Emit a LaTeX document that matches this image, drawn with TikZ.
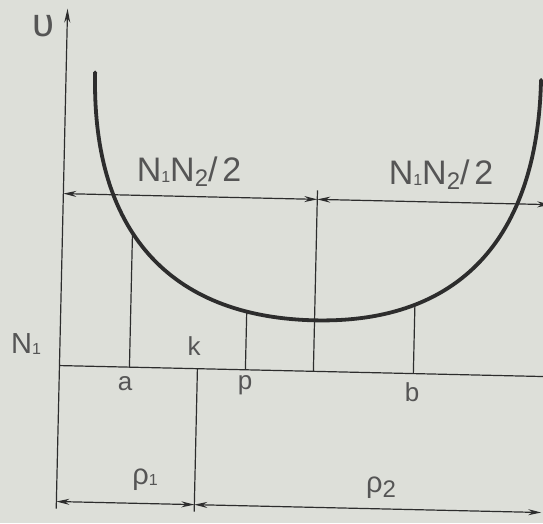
\documentclass[tikz,border=0pt]{standalone}
\usepackage{fontspec}
\setmainfont{Liberation Sans}
\usetikzlibrary{arrows.meta,intersections}
\definecolor{paper}{RGB}{221,223,217}
\definecolor{ink}{RGB}{45,45,45}
\definecolor{txt}{RGB}{85,85,85}
\newcommand{\tinysub}[1]{\raisebox{-1pt}{\fontsize{16}{16}\selectfont #1}}
\newcommand{\lowsub}[1]{\raisebox{-5pt}{\fontsize{24}{24}\selectfont #1}}
\begin{document}
\begin{tikzpicture}[x=1pt,y=-1pt,
  thin line/.style={ink, line width=1.2pt},
  curveline/.style={ink, line width=3.8pt, line cap=round},
  dim/.style={thin line, {Stealth[length=13pt,width=6pt]}-{Stealth[length=13pt,width=6pt]}},
  lbl/.style={txt, font=\fontsize{26}{26}\selectfont, inner sep=0pt},
  biglbl/.style={txt, font=\fontsize{34}{34}\selectfont\addfontfeature{LetterSpace=14}, inner sep=0pt}]
\fill[paper] (0,0) rectangle (543,523);
\useasboundingbox (0,0) rectangle (543,523);
\begin{scope}[rotate around={-1.3:(300,300)}]
  % axis
  \coordinate (O) at (61,514);
  \coordinate (Ytop) at (61,14);
  \draw[thin line, -{Stealth[length=14pt,width=6pt]}] (O) -- (Ytop);
  % curve
  \coordinate (CL) at (90,77);
  \coordinate (CB) at (315,320);
  \coordinate (CR) at (536,74.5);
  \draw[curveline, name path=cv] (CL) .. controls (90,235) and (169,320) .. (CB)
        .. controls (459,320) and (536,234) .. (CR);
  % top dimension line
  \coordinate (TL) at (61,199);
  \coordinate (TM) at (315,199);
  \coordinate (TR) at (548,199);
  \draw[dim] (TL) -- (TM);
  \draw[dim] (TM) -- (TR);
  % N1 line
  \coordinate (NL) at (61,371);
  \coordinate (NR) at (560,371);
  \draw[thin line] (NL) -- (NR);
  % verticals
  \coordinate (VmTop) at (315,190);
  \coordinate (VmBot) at (315,371);
  \draw[thin line] (VmTop) -- (VmBot);
  \path[name path=va] (131,100) -- (131,371);
  \path[name path=vp] (247,200) -- (247,371);
  \path[name path=vb] (415,200) -- (415,371);
  \path[name intersections={of=cv and va, by=ia}];
  \path[name intersections={of=cv and vp, by=ip}];
  \path[name intersections={of=cv and vb, by=ib}];
  \coordinate (Ba) at (131,371);
  \coordinate (Bp) at (247,371);
  \coordinate (Bb) at (415,371);
  \draw[thin line] (ia) -- (Ba);
  \draw[thin line] (ip) -- (Bp);
  \draw[thin line] (ib) -- (Bb);
  \coordinate (Kt) at (199,371);
  \coordinate (Kb) at (199,514);
  \draw[thin line] (Kt) -- (Kb);
  % bottom dimension line
  \coordinate (BL) at (61,507);
  \coordinate (BM) at (199,507);
  \coordinate (BR) at (546,507);
  \draw[dim] (BL) -- (BM);
  \draw[dim] (BM) -- (BR);
\end{scope}
% labels
\node[txt, inner sep=0pt, font=\fontsize{40}{40}\selectfont] (ups) at (43,26) {υ};
\node[biglbl] (n1n2a) at (189,172) {N\tinysub{1}N\lowsub{2}/2};
\node[biglbl] (n1n2b) at (441,175) {N\tinysub{1}N\lowsub{2}/2};
\node[txt, inner sep=0pt, font=\fontsize{29}{29}\selectfont] (n1) at (26,344) {N\tinysub{1}};
\node[lbl] (k) at (194,346) {k};
\node[lbl] (a) at (125,384) {a};
\node[lbl] (p) at (245,385) {p};
\node[lbl] (b) at (412,392) {b};
\node[lbl, font=\fontsize{29}{29}\selectfont] (rho1) at (145,480) {ρ\tinysub{1}};
\node[lbl, font=\fontsize{29}{29}\selectfont] (rho2) at (381,488) {ρ\lowsub{2}};
\end{tikzpicture}
\end{document}
